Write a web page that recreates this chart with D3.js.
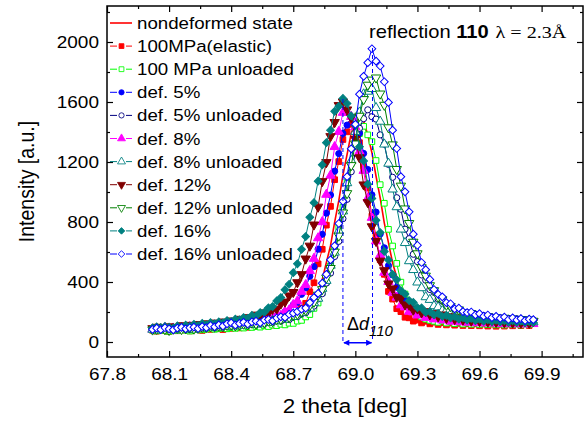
<!DOCTYPE html>
<html>
<head>
<meta charset="utf-8">
<script src="https://cdn.jsdelivr.net/npm/d3@7"></script>
<style>
body { margin: 0; background: #fff; }
svg text { font-family: "Liberation Sans", Arial, sans-serif; fill: #000; }
</style>
</head>
<body>
<svg id="chart" width="588" height="423"></svg>
<script>
// 2 theta grid (deg), shared by all scans
var theta = [
  68.02,68.04,68.06,68.08,68.10,68.12,68.14,68.16,68.18,68.20,
  68.22,68.24,68.26,68.28,68.30,68.32,68.34,68.36,68.38,68.40,
  68.42,68.44,68.46,68.48,68.50,68.52,68.54,68.56,68.58,68.60,
  68.62,68.64,68.66,68.68,68.70,68.72,68.74,68.76,68.78,68.80,
  68.82,68.84,68.86,68.88,68.90,68.92,68.94,68.96,68.98,69.00,
  69.02,69.04,69.06,69.08,69.10,69.12,69.14,69.16,69.18,69.20,
  69.22,69.24,69.26,69.28,69.30,69.32,69.34,69.36,69.38,69.40,
  69.42,69.44,69.46,69.48,69.50,69.52,69.54,69.56,69.58,69.60,
  69.62,69.64,69.66,69.68,69.70,69.72,69.74,69.76,69.78,69.80,
  69.82,69.84,69.86
];

var nondeformed = [
  80,77,83,79,74,82,78,85,80,76, 86,82,90,85,93,88,95,90,98,93,
  100,95,103,98,106,101,111,105,116,111, 120,117,127,128,143,148,171,188,231,268,
  342,415,530,642,799,942,1112,1250,1392,1460, 1498,1472,1380,1262,1105,960,793,662,528,431,
  341,285,232,205,176,166,148,148,135,139, 128,133,124,130,121,127,119,126,117,124,
  116,123,115,121,114,122,113,120,114,121, 115,122,116
];
var elastic100 = [
  78,72,84,76,70,81,75,87,80,74, 89,82,77,91,84,96,88,83,99,91,
  103,94,107,98,111,103,116,108,121,113, 128,124,143,141,170,182,226,258,335,395,
  521,618,779,904,1082,1203,1350,1401,1451,1398, 1329,1169,1027,839,707,548,451,337,286,222,
  202,165,161,139,146,127,138,121,132,117, 129,114,126,112,124,110,122,109,121,108,
  120,106,119,105,118,106,119,108,121,109, 122,110,123
];
var unloaded100 = [
  80,74,83,77,71,82,76,85,79,73, 84,89,81,86,94,85,90,96,88,95,
  91,99,93,102,97,104,99,108,103,113, 109,118,114,125,124,139,144,167,183,224,
  260,330,398,508,617,764,897,1064,1190,1332, 1389,1438,1381,1336,1210,1049,925,751,640,524,
  399,320,263,219,190,167,152,144,138,131, 140,126,135,122,132,119,127,118,128,117,
  126,116,125,114,123,113,122,115,124,113, 122,116,124
];
var def5 = [
  86,79,92,84,97,89,83,94,99,91, 104,96,108,99,112,104,116,109,120,113,
  124,116,130,123,138,133,149,144,161,155, 176,175,201,207,248,264,318,361,438,502,
  619,718,859,980,1139,1256,1391,1446,1497,1451, 1392,1257,1150,981,866,720,628,509,447,365,
  330,275,258,218,214,187,190,170,176,158, 167,149,159,141,152,137,147,133,144,130,
  141,127,138,126,136,124,135,123,133,122, 132,120,131
];
var def5u = [
  88,81,92,86,79,90,84,95,87,82, 93,88,99,92,103,96,107,99,110,104,
  113,106,117,110,122,114,126,121,134,129, 145,139,154,149,167,169,188,195,224,239,
  287,322,393,459,570,671,822,951,1135,1262, 1425,1489,1548,1502,1486,1381,1319,1184,1098,962,
  885,752,689,585,536,447,412,350,331,285, 272,239,235,210,212,190,196,175,185,166,
  176,158,167,152,162,149,157,144,155,141, 150,138,147
];
var def8 = [
  84,90,82,95,86,91,80,97,90,101, 94,88,104,96,108,100,112,105,117,110,
  122,114,128,121,138,132,148,142,160,157, 178,176,203,212,248,273,336,381,474,556,
  693,800,983,1110,1301,1402,1529,1531,1502,1433, 1270,1142,958,829,672,579,463,402,329,297,
  246,232,203,199,178,181,162,170,152,163, 145,155,137,149,133,144,130,141,127,139,
  125,136,124,135,121,133,120,131,119,130, 118,129,121
];
var def8u = [
  83,78,89,82,91,85,80,92,86,90, 83,94,91,102,95,104,98,108,103,112,
  106,115,110,121,116,126,119,133,128,142, 140,154,151,166,168,187,196,213,225,262,
  290,356,409,510,597,741,872,1060,1209,1402, 1531,1652,1670,1688,1561,1470,1318,1190,1018,900,
  751,661,540,481,398,360,300,282,240,232, 208,210,185,190,173,181,163,170,158,165,
  150,158,146,154,141,150,139,146,137,145, 134,142,133
];
var def12 = [
  91,100,95,88,103,96,99,110,102,113, 105,118,112,123,116,128,121,135,128,142,
  136,153,147,164,160,181,176,196,193,219, 221,255,268,309,332,397,451,555,641,782,
  901,1071,1198,1371,1465,1578,1602,1549,1497,1352, 1230,1049,931,770,672,541,477,389,356,300,
  291,249,247,214,222,196,204,183,191,170, 182,159,170,152,163,148,158,141,152,138,
  149,134,145,132,143,130,141,128,139,127, 138,126,137
];
var def12u = [
  82,86,91,84,79,88,93,85,90,96, 88,92,98,99,105,101,108,104,112,115,
  109,118,121,117,128,122,133,130,141,138, 151,152,166,165,181,186,204,213,244,267,
  314,351,428,492,601,708,862,991,1178,1322, 1507,1618,1714,1748,1762,1655,1580,1430,1316,1152,
  1041,889,792,667,590,497,441,377,344,301, 283,247,238,214,216,195,188,192,177,174,
  168,171,158,163,151,160,147,155,143,152, 141,149,140
];
var def16 = [
  94,101,93,104,98,92,107,100,112,105, 117,110,124,115,129,121,134,127,143,136,
  152,148,163,158,177,172,196,198,228,236, 274,296,349,385,462,521,618,703,831,929,
  1072,1181,1329,1412,1538,1571,1624,1590,1507,1443, 1301,1207,1052,957,811,730,604,547,451,415,
  343,320,276,264,229,227,198,203,181,190, 170,178,161,170,152,163,146,157,143,153,
  139,149,136,145,134,143,131,142,130,140, 129,138,130
];
var def16u = [
  84,92,83,95,87,81,93,97,88,95, 99,90,103,96,110,101,114,106,121,127,
  113,124,131,120,134,139,128,146,150,141, 160,168,164,185,192,203,219,226,262,296,
  324,392,451,548,641,790,938,1102,1288,1451, 1652,1771,1862,1955,1872,1840,1735,1597,1412,1290,
  1102,1001,868,719,645,530,482,417,350,318, 301,262,255,221,226,203,196,200,181,189,
  172,180,163,171,158,166,150,161,147,156, 143,152,149
];

var seriesNames = ["nondeformed state", "100MPa(elastic)", "100 MPa unloaded", "def. 5%",
  "def. 5% unloaded", "def. 8%", "def. 8% unloaded", "def. 12%", "def. 12% unloaded",
  "def. 16%", "def. 16% unloaded"];
var seriesValues = [nondeformed, elastic100, unloaded100, def5, def5u, def8, def8u,
  def12, def12u, def16, def16u];

var xTicks = [67.8, 68.1, 68.4, 68.7, 69.0, 69.3, 69.6, 69.9];
var xMinor = [67.95, 68.25, 68.55, 68.85, 69.15, 69.45, 69.75, 70.05];
var yTicks = [0, 400, 800, 1200, 1600, 2000];
var yMinor = [200, 600, 1000, 1400, 1800, 2200];

// peak positions marked by the delta d arrow
var peakLoaded = 68.94;
var peakUnloaded = 69.083;

// styles
var colors = ["#ff0000", "#ff0000", "#00ff00", "#0000ff", "#000080", "#ff00ff",
  "#008080", "#800000", "#008000", "#008080", "#0000ff"];
var symbols = ["none", "square", "square", "circle", "circle", "triUp", "triUp",
  "triDown", "triDown", "diamond", "diamond"];
var filled = [true, true, false, true, false, true, false, true, false, true, false];

var W = 588, H = 423;
var M = {top: 6, right: 5, bottom: 66, left: 107};
var SX = 1.15; // text is a bit wide in the original

var svg = d3.select("#chart");

var x = d3.scaleLinear().domain([67.8, 70.1]).range([M.left, W - M.right]);
var y = d3.scaleLinear().domain([-100, 2240]).range([H - M.bottom, M.top]);

function symPath(kind) {
  if (kind === "square") return d3.symbol(d3.symbolSquare, 32)();
  if (kind === "circle") return d3.symbol(d3.symbolCircle, 30)();
  if (kind === "triUp" || kind === "triDown") return d3.symbol(d3.symbolTriangle, 38)();
  if (kind === "diamond") return d3.symbol(d3.symbolSquare, 30)();
  return null;
}
function symRot(kind) {
  if (kind === "triDown") return " rotate(180)";
  if (kind === "diamond") return " rotate(45)";
  return "";
}

var clip = svg.append("defs").append("clipPath").attr("id", "plotclip")
  .append("rect")
  .attr("x", M.left).attr("y", M.top)
  .attr("width", W - M.left - M.right).attr("height", H - M.top - M.bottom);

var gData = svg.append("g").attr("clip-path", "url(#plotclip)");

var line = d3.line()
  .x(function(d) { return x(d[0]); })
  .y(function(d) { return y(d[1]); });

seriesValues.forEach(function(vals, i) {
  var pts = theta.map(function(t, k) { return [t, vals[k]]; });
  var g = gData.append("g").attr("class", "series s" + i);
  g.append("path")
    .datum(pts)
    .attr("d", line)
    .attr("fill", "none")
    .attr("stroke", colors[i])
    .attr("stroke-width", i === 0 ? 1.6 : 1);
  var p = symPath(symbols[i]);
  if (p) {
    g.selectAll("path.m").data(pts).enter().append("path")
      .attr("class", "m")
      .attr("d", p)
      .attr("transform", function(d) {
        return "translate(" + x(d[0]) + "," + y(d[1]) + ")" + symRot(symbols[i]);
      })
      .attr("fill", filled[i] ? colors[i] : "#fff")
      .attr("stroke", colors[i])
      .attr("stroke-width", 1);
  }
});

// delta d annotation
var ann = svg.append("g");
ann.append("line")
  .attr("x1", x(peakLoaded)).attr("x2", x(peakLoaded))
  .attr("y1", y(1620)).attr("y2", y(0))
  .attr("stroke", "#0000ff").attr("stroke-width", 1).attr("stroke-dasharray", "4,3");
ann.append("line")
  .attr("x1", x(peakUnloaded)).attr("x2", x(peakUnloaded))
  .attr("y1", y(1960)).attr("y2", y(0))
  .attr("stroke", "#0000ff").attr("stroke-width", 1).attr("stroke-dasharray", "4,3");
var defs = svg.select("defs");
defs.append("marker").attr("id", "ahead")
  .attr("viewBox", "0 0 10 10").attr("refX", 9).attr("refY", 5)
  .attr("markerWidth", 7).attr("markerHeight", 6).attr("orient", "auto-start-reverse")
  .attr("markerUnits", "userSpaceOnUse")
  .append("path").attr("d", "M0,0 L10,5 L0,10 z").attr("fill", "#0000ff");
ann.append("line")
  .attr("x1", x(peakLoaded) + 1).attr("x2", x(peakUnloaded) - 1)
  .attr("y1", y(-5)).attr("y2", y(-5))
  .attr("stroke", "#0000ff").attr("stroke-width", 1.5)
  .attr("marker-start", "url(#ahead)").attr("marker-end", "url(#ahead)");
var dt = ann.append("text")
  .attr("transform", "translate(" + (x(peakLoaded) + 4) + "," + 330 + ")")
  .style("font-size", "18px");
dt.append("tspan").text("\u0394");
dt.append("tspan").style("font-style", "italic").text("d");
dt.append("tspan").style("font-style", "italic").style("font-size", "15px")
  .attr("dy", 6).text("110");

// axes
function styleAxis(g) {
  g.select(".domain").remove();
  g.selectAll("line").attr("stroke", "#000").attr("stroke-width", 1.2);
}
var gx = svg.append("g").attr("transform", "translate(0," + (H - M.bottom) + ")")
  .call(d3.axisBottom(x).tickValues(xTicks).tickSize(-6).tickPadding(11)
    .tickFormat(d3.format(".1f")));
gx.call(styleAxis);
gx.selectAll("text").style("font-size", "16.5px").attr("transform", "scale(" + SX + ",1)");
svg.append("g").attr("transform", "translate(0," + (H - M.bottom) + ")")
  .call(d3.axisBottom(x).tickValues(xMinor).tickSize(-3).tickFormat(""))
  .call(styleAxis);

var gy = svg.append("g").attr("transform", "translate(" + M.left + ",0)")
  .call(d3.axisLeft(y).tickValues(yTicks).tickSize(-6).tickPadding(7)
    .tickFormat(d3.format("d")));
gy.call(styleAxis);
gy.selectAll("text").style("font-size", "16.5px").attr("transform", "scale(" + SX + ",1)");
svg.append("g").attr("transform", "translate(" + M.left + ",0)")
  .call(d3.axisLeft(y).tickValues(yMinor).tickSize(-3).tickFormat(""))
  .call(styleAxis);

svg.append("g").attr("transform", "translate(0," + M.top + ")")
  .call(d3.axisTop(x).tickValues(xTicks).tickSize(-6).tickFormat(""))
  .call(styleAxis);
svg.append("g").attr("transform", "translate(0," + M.top + ")")
  .call(d3.axisTop(x).tickValues(xMinor).tickSize(-3).tickFormat(""))
  .call(styleAxis);
svg.append("g").attr("transform", "translate(" + (W - M.right) + ",0)")
  .call(d3.axisRight(y).tickValues(yTicks).tickSize(-6).tickFormat(""))
  .call(styleAxis);
svg.append("g").attr("transform", "translate(" + (W - M.right) + ",0)")
  .call(d3.axisRight(y).tickValues(yMinor).tickSize(-3).tickFormat(""))
  .call(styleAxis);

svg.append("rect")
  .attr("x", M.left).attr("y", M.top)
  .attr("width", W - M.left - M.right).attr("height", H - M.top - M.bottom)
  .attr("fill", "none").attr("stroke", "#000").attr("stroke-width", 1.5);

// axis titles
svg.append("text")
  .attr("transform", "translate(" + ((M.left + W - M.right) / 2) + ",413) scale(" + SX + ",1)")
  .attr("text-anchor", "middle").style("font-size", "19.5px")
  .text("2 theta [deg]");
svg.append("text")
  .attr("transform", "translate(34," + ((M.top + H - M.bottom) / 2) + ") rotate(-90) scale(1,1.15)")
  .attr("text-anchor", "middle").style("font-size", "19.5px")
  .text("Intensity [a.u.]");

// reflection label
var rl = svg.append("text")
  .attr("transform", "translate(369,38) scale(" + SX + ",1)")
  .style("font-size", "17.5px");
rl.append("tspan").text("reflection ");
rl.append("tspan").style("font-weight", "bold").text("110");
rl.append("tspan").style("font-family", "'Liberation Serif', 'Times New Roman', serif")
  .attr("dx", 6).text("\u03bb = 2.3\u00c5");

// legend
var lg = svg.append("g");
seriesNames.forEach(function(name, i) {
  var cy = 23 + i * 23.1;
  var row = lg.append("g").attr("transform", "translate(110," + cy + ")");
  if (symbols[i] === "none") {
    row.append("line").attr("x1", 0).attr("x2", 22).attr("y1", 0).attr("y2", 0)
      .attr("stroke", colors[i]).attr("stroke-width", 1.6);
  } else {
    row.append("line").attr("x1", 0).attr("x2", 7).attr("y1", 0).attr("y2", 0)
      .attr("stroke", colors[i]).attr("stroke-width", 1);
    row.append("line").attr("x1", 16).attr("x2", 22).attr("y1", 0).attr("y2", 0)
      .attr("stroke", colors[i]).attr("stroke-width", 1);
    row.append("path").attr("d", symPath(symbols[i]))
      .attr("transform", "translate(11.5,0)" + symRot(symbols[i]) + " scale(0.85)")
      .attr("fill", filled[i] ? colors[i] : "#fff")
      .attr("stroke", colors[i]).attr("stroke-width", 1);
  }
  row.append("text")
    .attr("transform", "translate(27,6) scale(1.1,1)")
    .style("font-size", "17px")
    .text(name);
});
</script>
</body>
</html>
